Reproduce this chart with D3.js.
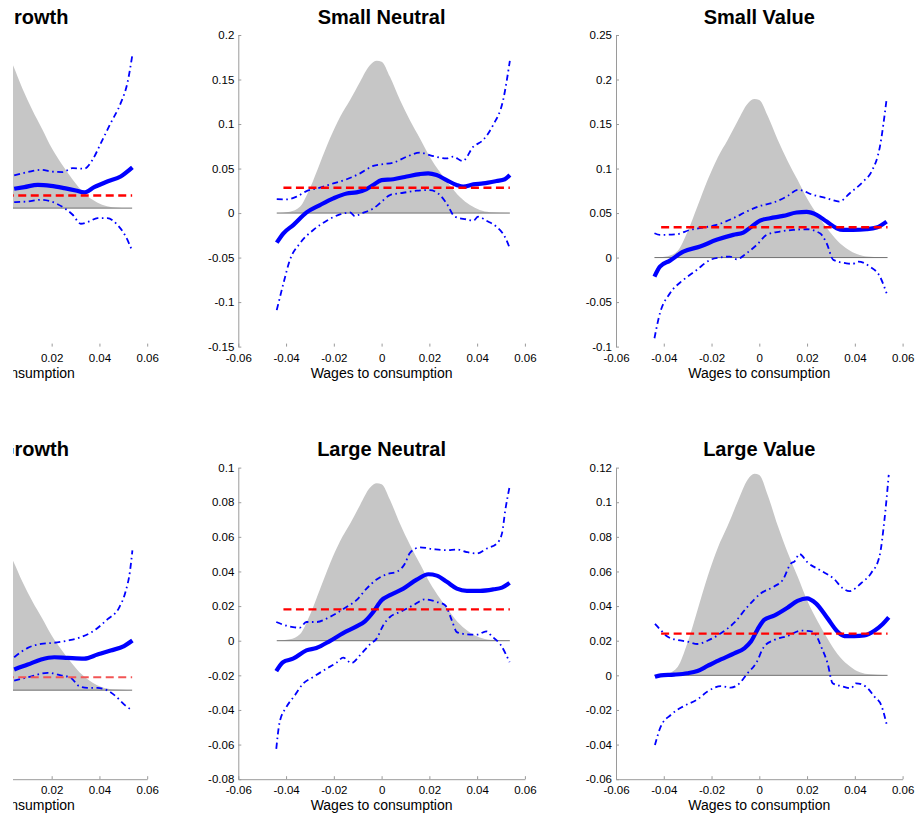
<!DOCTYPE html>
<html>
<head>
<meta charset="utf-8">
<script src="https://cdn.jsdelivr.net/npm/d3@7"></script>
<style>
  body { margin: 0; background: #fff; }
  svg { display: block; font-family: "Liberation Sans", Arial, sans-serif; }
</style>
</head>
<body>
<script>
// panels, in reading order (left column is cut off in the figure)
let panelTitles = ['Small Growth', 'Small Neutral', 'Small Value', 'Large Growth', 'Large Neutral', 'Large Value']
let yDomains = [[-0.2, 0.25], [-0.15, 0.2], [-0.1, 0.25], [-0.04, 0.1], [-0.08, 0.1], [-0.06, 0.12]]
let yTickSteps = [0.05, 0.05, 0.05, 0.02, 0.02, 0.02]
let xTicks = [-0.06, -0.04, -0.02, 0, 0.02, 0.04, 0.06]
let xLabel = 'Wages to consumption'

// unconditional mean (red dashed)
let uncondMean = [0.0183, 0.0285, 0.0341, 0.0058, 0.0181, 0.0241]
let uncondRange = [-0.0411, 0.0537]

// kernel density of wages to consumption (grey area)
let densityX = [-0.0439, -0.0384, -0.0342, -0.0300, -0.0258, -0.0216, -0.0174, -0.0132, -0.0090, -0.0049, -0.0020, 0,
	0.0035, 0.0077, 0.0119, 0.0160, 0.0202, 0.0244, 0.0286, 0.0328, 0.0370, 0.0411, 0.0453, 0.0537]
let smallGrowthDensity = [0, 0.0021, 0.0096, 0.0382, 0.0762, 0.1144, 0.1473, 0.1731, 0.2011, 0.2262, 0.2330, 0.2316,
	0.2085, 0.1731, 0.1417, 0.1144, 0.0857, 0.0627, 0.0422, 0.0245, 0.0123, 0.0047, 0.0014, 0]
let smallNeutralDensity = [0, 0.0015, 0.0070, 0.0280, 0.0560, 0.0840, 0.1080, 0.1270, 0.1476, 0.1660, 0.1710, 0.1700,
	0.1530, 0.1270, 0.1040, 0.0840, 0.0630, 0.0460, 0.0310, 0.0180, 0.0090, 0.0034, 0.0010, 0]
let smallValueDensity = [0, 0.0016, 0.0073, 0.0292, 0.0582, 0.0874, 0.1125, 0.1323, 0.1536, 0.1728, 0.1780, 0.1769,
	0.1593, 0.1323, 0.1082, 0.0874, 0.0655, 0.0479, 0.0322, 0.0187, 0.0094, 0.0036, 0.0011, 0]
let largeGrowthDensity = [0, 0.0006, 0.0027, 0.0108, 0.0215, 0.0323, 0.0415, 0.0488, 0.0567, 0.0638, 0.0657, 0.0653,
	0.0588, 0.0488, 0.0399, 0.0323, 0.0242, 0.0177, 0.0119, 0.0069, 0.0035, 0.0013, 0.0004, 0]
let largeNeutralDensity = [0, 0.0008, 0.0037, 0.0149, 0.0297, 0.0446, 0.0574, 0.0675, 0.0784, 0.0883, 0.0909, 0.0904,
	0.0814, 0.0675, 0.0553, 0.0446, 0.0335, 0.0245, 0.0165, 0.0095, 0.0048, 0.0018, 0.0005, 0]
let largeValueDensity = [0, 0.0010, 0.0048, 0.0191, 0.0381, 0.0572, 0.0736, 0.0865, 0.1005, 0.1130, 0.1164, 0.1157,
	0.1042, 0.0865, 0.0708, 0.0572, 0.0428, 0.0313, 0.0211, 0.0122, 0.0062, 0.0023, 0.0007, 0]

// conditional expected return (thick) and bands (dash-dot), [x, y]
let smallGrowthMean = [[0.0043, 0.0279], [0.0086, 0.0303], [0.0142, 0.0337], [0.0197, 0.0322], [0.0253, 0.0289], [0.0301, 0.0255],
	[0.0336, 0.0226], [0.0378, 0.0303], [0.0433, 0.0385], [0.0489, 0.0457], [0.0538, 0.0587]]
let smallGrowthUpper = [[0.0043, 0.0472], [0.0100, 0.0520], [0.0156, 0.0553], [0.0197, 0.0529], [0.0246, 0.0520], [0.0288, 0.0578],
	[0.0336, 0.0568], [0.0371, 0.0698], [0.0406, 0.0938], [0.0447, 0.1227], [0.0489, 0.1516], [0.0517, 0.1805], [0.0538, 0.2214]]
let smallGrowthLower = [[0.0043, 0.0087], [0.0100, 0.0096], [0.0156, 0.0120], [0.0197, 0.0096], [0.0253, 0.0000], [0.0288, -0.0096],
	[0.0322, -0.0226], [0.0357, -0.0193], [0.0392, -0.0144], [0.0433, -0.0144], [0.0475, -0.0241], [0.0510, -0.0409], [0.0538, -0.0626]]

let smallNeutralMean = [[-0.0439, -0.0333], [-0.0411, -0.0228], [-0.0370, -0.0135], [-0.0314, 0.0007], [-0.0258, 0.0090], [-0.0202, 0.0165],
	[-0.0146, 0.0220], [-0.0105, 0.0232], [-0.0063, 0.0270], [-0.0035, 0.0315], [0, 0.0370], [0.0049, 0.0380], [0.0105, 0.0410],
	[0.0160, 0.0438], [0.0195, 0.0446], [0.0230, 0.0427], [0.0272, 0.0370], [0.0314, 0.0315], [0.0342, 0.0296], [0.0384, 0.0322],
	[0.0425, 0.0333], [0.0481, 0.0360], [0.0516, 0.0380], [0.0537, 0.0427]]
let smallNeutralUpper = [[-0.0439, 0.0157], [-0.0397, 0.0154], [-0.0356, 0.0184], [-0.0314, 0.0247], [-0.0258, 0.0285], [-0.0202, 0.0333],
	[-0.0146, 0.0380], [-0.0090, 0.0446], [-0.0035, 0.0530], [0.0007, 0.0550], [0.0049, 0.0566], [0.0105, 0.0633], [0.0160, 0.0678],
	[0.0216, 0.0640], [0.0272, 0.0614], [0.0300, 0.0633], [0.0339, 0.0584], [0.0384, 0.0745], [0.0425, 0.0820], [0.0467, 0.0989],
	[0.0509, 0.1270], [0.0537, 0.1710]]
let smallNeutralLower = [[-0.0439, -0.1090], [-0.0411, -0.0790], [-0.0384, -0.0528], [-0.0342, -0.0340], [-0.0286, -0.0190], [-0.0230, -0.0086],
	[-0.0174, -0.0015], [-0.0132, 0.0007], [-0.0112, -0.0034], [-0.0084, -0.0004], [-0.0035, 0.0052], [0, 0.0127], [0.0035, 0.0202],
	[0.0091, 0.0228], [0.0146, 0.0251], [0.0202, 0.0258], [0.0237, 0.0220], [0.0272, 0.0109], [0.0307, -0.0041], [0.0356, -0.0071],
	[0.0384, -0.0086], [0.0404, -0.0041], [0.0439, -0.0086], [0.0481, -0.0154], [0.0516, -0.0266], [0.0537, -0.0397]]

let smallValueMean = [[-0.0439, -0.0213], [-0.0416, -0.0101], [-0.0374, -0.0034], [-0.0318, 0.0067], [-0.0248, 0.0124], [-0.0179, 0.0199],
	[-0.0109, 0.0255], [-0.0067, 0.0281], [-0.0032, 0.0348], [0.0003, 0.0416], [0.0045, 0.0442], [0.0100, 0.0468], [0.0156, 0.0506],
	[0.0198, 0.0513], [0.0240, 0.0480], [0.0282, 0.0404], [0.0324, 0.0330], [0.0351, 0.0311], [0.0393, 0.0311], [0.0449, 0.0318],
	[0.0491, 0.0337], [0.0533, 0.0404]]
let smallValueUpper = [[-0.0439, 0.0273], [-0.0416, 0.0255], [-0.0346, 0.0262], [-0.0290, 0.0311], [-0.0234, 0.0337], [-0.0179, 0.0367],
	[-0.0109, 0.0442], [-0.0053, 0.0517], [0.0003, 0.0580], [0.0059, 0.0618], [0.0114, 0.0685], [0.0163, 0.0760], [0.0226, 0.0704],
	[0.0282, 0.0667], [0.0335, 0.0629], [0.0379, 0.0723], [0.0435, 0.0854], [0.0470, 0.0966], [0.0505, 0.1247], [0.0533, 0.1779]]
let smallValueLower = [[-0.0439, -0.0906], [-0.0416, -0.0625], [-0.0374, -0.0401], [-0.0318, -0.0251], [-0.0262, -0.0139], [-0.0206, -0.0026],
	[-0.0165, 0], [-0.0123, 0.0011], [-0.0095, -0.0019], [-0.0053, 0.0049], [-0.0011, 0.0142], [0.0031, 0.0255], [0.0086, 0.0292],
	[0.0142, 0.0311], [0.0198, 0.0318], [0.0254, 0.0273], [0.0282, 0.0161], [0.0310, -0.0026], [0.0365, -0.0064], [0.0391, -0.0071],
	[0.0414, -0.0045], [0.0463, -0.0101], [0.0505, -0.0213], [0.0533, -0.0401]]

let largeGrowthMean = [[0.0043, 0.0093], [0.0100, 0.0115], [0.0156, 0.0138], [0.0211, 0.0148], [0.0267, 0.0145], [0.0336, 0.0142],
	[0.0392, 0.0160], [0.0447, 0.0178], [0.0503, 0.0198], [0.0538, 0.0223]]
let largeGrowthUpper = [[0.0043, 0.0148], [0.0100, 0.0190], [0.0156, 0.0208], [0.0211, 0.0213], [0.0267, 0.0223], [0.0322, 0.0238],
	[0.0378, 0.0268], [0.0433, 0.0318], [0.0482, 0.0370], [0.0510, 0.0445], [0.0528, 0.0535], [0.0538, 0.0628]]
let largeGrowthLower = [[0.0043, 0.0043], [0.0100, 0.0058], [0.0183, 0.0078], [0.0239, 0.0067], [0.0281, 0.0055], [0.0315, 0.0018],
	[0.0350, 0.0010], [0.0392, 0.0010], [0.0433, -0.0001], [0.0468, -0.0027], [0.0503, -0.0064], [0.0538, -0.0091]]

let largeNeutralMean = [[-0.0441, -0.0176], [-0.0413, -0.0124], [-0.0371, -0.0104], [-0.0315, -0.0056], [-0.0273, -0.0042], [-0.0217, -0.0002],
	[-0.0161, 0.0044], [-0.0105, 0.0083], [-0.0070, 0.0112], [-0.0035, 0.0166], [0, 0.0234], [0.0035, 0.0263], [0.0091, 0.0301],
	[0.0147, 0.0353], [0.0196, 0.0384], [0.0231, 0.0376], [0.0273, 0.0340], [0.0315, 0.0301], [0.0357, 0.0288], [0.0413, 0.0288],
	[0.0469, 0.0297], [0.0504, 0.0307], [0.0536, 0.0334]]
let largeNeutralUpper = [[-0.0441, 0.0108], [-0.0413, 0.0093], [-0.0371, 0.0079], [-0.0343, 0.0075], [-0.0315, 0.0108], [-0.0273, 0.0108],
	[-0.0217, 0.0137], [-0.0147, 0.0195], [-0.0105, 0.0234], [-0.0063, 0.0301], [-0.0021, 0.0353], [0.0021, 0.0384], [0.0063, 0.0398],
	[0.0098, 0.0446], [0.0119, 0.0508], [0.0161, 0.0539], [0.0217, 0.0529], [0.0273, 0.0523], [0.0315, 0.0527], [0.0357, 0.0512],
	[0.0399, 0.0504], [0.0441, 0.0533], [0.0483, 0.0562], [0.0504, 0.0620], [0.0518, 0.0755], [0.0536, 0.0890]]
let largeNeutralLower = [[-0.0441, -0.0625], [-0.0427, -0.0471], [-0.0399, -0.0384], [-0.0364, -0.0317], [-0.0329, -0.0249], [-0.0287, -0.0210],
	[-0.0231, -0.0162], [-0.0189, -0.0127], [-0.0161, -0.0098], [-0.0126, -0.0129], [-0.0091, -0.0085], [-0.0049, -0.0021], [-0.0021, 0.0012],
	[0.0007, 0.0089], [0.0035, 0.0137], [0.0077, 0.0166], [0.0133, 0.0205], [0.0182, 0.0239], [0.0231, 0.0224], [0.0266, 0.0205],
	[0.0294, 0.0118], [0.0315, 0.0050], [0.0357, 0.0037], [0.0399, 0.0035], [0.0438, 0.0054], [0.0462, 0.0025], [0.0497, -0.0021], [0.0536, -0.0124]]

let largeValueMean = [[-0.0437, -0.0008], [-0.0413, 0], [-0.0357, 0.0004], [-0.0301, 0.0012], [-0.0259, 0.0025], [-0.0217, 0.0054],
	[-0.0161, 0.0092], [-0.0105, 0.0127], [-0.0063, 0.0156], [-0.0035, 0.0195], [-0.0007, 0.0266], [0.0020, 0.0320], [0.0062, 0.0345],
	[0.0118, 0.0391], [0.0160, 0.0430], [0.0199, 0.0445], [0.0237, 0.0416], [0.0286, 0.0329], [0.0328, 0.0252], [0.0356, 0.0227],
	[0.0398, 0.0227], [0.0440, 0.0231], [0.0482, 0.0258], [0.0517, 0.0297], [0.0542, 0.0335]]
let largeValueUpper = [[-0.0437, 0.0297], [-0.0413, 0.0262], [-0.0385, 0.0224], [-0.0343, 0.0204], [-0.0301, 0.0195], [-0.0259, 0.0181],
	[-0.0217, 0.0200], [-0.0161, 0.0243], [-0.0105, 0.0304], [-0.0049, 0.0397], [0.0007, 0.0474], [0.0062, 0.0513], [0.0098, 0.0551],
	[0.0133, 0.0647], [0.0147, 0.0657], [0.0168, 0.0701], [0.0203, 0.0651], [0.0258, 0.0605], [0.0314, 0.0555], [0.0349, 0.0503],
	[0.0377, 0.0486], [0.0426, 0.0532], [0.0468, 0.0590], [0.0503, 0.0686], [0.0524, 0.0898], [0.0542, 0.1158]]
let largeValueLower = [[-0.0437, -0.0403], [-0.0413, -0.0297], [-0.0371, -0.0229], [-0.0315, -0.0177], [-0.0259, -0.0139], [-0.0217, -0.0094],
	[-0.0161, -0.0062], [-0.0119, -0.0071], [-0.0091, -0.0056], [-0.0049, 0.0012], [-0.0014, 0.0069], [0.0020, 0.0166], [0.0062, 0.0204],
	[0.0118, 0.0227], [0.0174, 0.0258], [0.0223, 0.0252], [0.0265, 0.0146], [0.0286, 0.0069], [0.0307, -0.0046], [0.0342, -0.0062],
	[0.0384, -0.0075], [0.0405, -0.0046], [0.0447, -0.0066], [0.0482, -0.0123], [0.0510, -0.0171], [0.0534, -0.0287]]

let densities = [smallGrowthDensity, smallNeutralDensity, smallValueDensity, largeGrowthDensity, largeNeutralDensity, largeValueDensity]
let means = [smallGrowthMean, smallNeutralMean, smallValueMean, largeGrowthMean, largeNeutralMean, largeValueMean]
let uppers = [smallGrowthUpper, smallNeutralUpper, smallValueUpper, largeGrowthUpper, largeNeutralUpper, largeValueUpper]
let lowers = [smallGrowthLower, smallNeutralLower, smallValueLower, largeGrowthLower, largeNeutralLower, largeValueLower]

// layout
let colLeft = [-139.4, 238.3, 616]
let rowTop = [35, 467.6]
let W = 286.6, H = 311.6

let svg = d3.select('body').append('svg')
	.attr('width', 922)
	.attr('height', 817)

// left column is cropped at x = 13
svg.append('defs').append('clipPath')
	.attr('id', 'cropLeft')
	.append('rect')
	.attr('x', 13).attr('y', 0)
	.attr('width', 200).attr('height', 817)

let fmt = function(d){ return String(+d.toFixed(3)) }

function drawPanel(i){
	let col = i % 3, row = Math.floor(i / 3)
	let left = colLeft[col], top = rowTop[row]

	let x = d3.scaleLinear().domain([-0.06, 0.06]).range([left, left + W])
	let y = d3.scaleLinear().domain(yDomains[i]).range([top + H, top])

	let g = svg.append('g')
	if (col == 0) g.attr('clip-path', 'url(#cropLeft)')

	// density
	let dens = densityX.map(function(d, k){ return [d, densities[i][k]] })
	g.append('path')
		.datum(dens)
		.attr('fill', '#c6c6c6')
		.attr('d', d3.area()
			.x(function(d){ return x(d[0]) })
			.y0(y(0))
			.y1(function(d){ return y(d[1]) })
			.curve(d3.curveMonotoneX))

	g.append('line')
		.attr('x1', x(densityX[0])).attr('x2', x(densityX[densityX.length - 1]))
		.attr('y1', y(0)).attr('y2', y(0))
		.attr('stroke', '#707070')
		.attr('stroke-width', 1)

	let line = d3.line()
		.x(function(d){ return x(d[0]) })
		.y(function(d){ return y(d[1]) })
		.curve(d3.curveMonotoneX)

	// bands
	;[uppers[i], lowers[i]].forEach(function(band){
		g.append('path')
			.datum(band)
			.attr('fill', 'none')
			.attr('stroke', '#0000ff')
			.attr('stroke-width', 1.8)
			.attr('stroke-dasharray', '6,3.5,1.6,3.5')
			.attr('d', line)
	})

	// conditional mean
	g.append('path')
		.datum(means[i])
		.attr('fill', 'none')
		.attr('stroke', '#0000ff')
		.attr('stroke-width', 4.2)
		.attr('stroke-linejoin', 'round')
		.attr('d', line)

	// unconditional mean
	g.append('line')
		.attr('x1', x(uncondRange[0])).attr('x2', x(uncondRange[1]))
		.attr('y1', y(uncondMean[i])).attr('y2', y(uncondMean[i]))
		.attr('stroke', i == 3 ? '#f25555' : '#ff0000')
		.attr('stroke-width', i == 3 ? 1.8 : 2.4)
		.attr('stroke-dasharray', '8,4.5')

	// axes
	let yTicks = d3.range(Math.round((yDomains[i][1] - yDomains[i][0]) / yTickSteps[i]) + 1)
		.map(function(k){ return +(yDomains[i][0] + k * yTickSteps[i]).toFixed(3) })

	let ax = g.append('g')
		.attr('transform', 'translate(' + left + ',0)')
		.call(d3.axisLeft(y).tickValues(yTicks).tickFormat(fmt).tickSize(-3).tickSizeOuter(0).tickPadding(4))
	let bx = g.append('g')
		.attr('transform', 'translate(0,' + (top + H) + ')')
		.call(d3.axisBottom(x).tickValues(xTicks).tickFormat(fmt).tickSize(-3).tickSizeOuter(0).tickPadding(7))

	;[ax, bx].forEach(function(a){
		a.attr('font-family', null).attr('font-size', null)
		a.select('.domain').attr('stroke', '#9a9a9a')
		a.selectAll('.tick line').attr('stroke', '#9a9a9a')
		a.selectAll('.tick text').attr('fill', '#000').style('font-size', '11.5px')
	})
	// top row's x axis line is not visible in the figure
	if (row == 0) bx.select('.domain').remove()
	// y tick labels of the cropped column fall outside the picture
	if (col == 0) ax.selectAll('.tick text').remove()
	if (col == 0) bx.selectAll('.tick text').filter(function(d){ return x(d) < 20 }).remove()

	g.append('text')
		.attr('x', left + W / 2)
		.attr('y', top + H + 31)
		.attr('text-anchor', 'middle')
		.style('font-size', '14px')
		.text(xLabel)

	g.append('text')
		.attr('x', left + W / 2)
		.attr('y', top - 11.5)
		.attr('text-anchor', 'middle')
		.style('font-size', '20px')
		.style('font-weight', 'bold')
		.text(panelTitles[i])
}

d3.range(6).forEach(drawPanel)
</script>
</body>
</html>
